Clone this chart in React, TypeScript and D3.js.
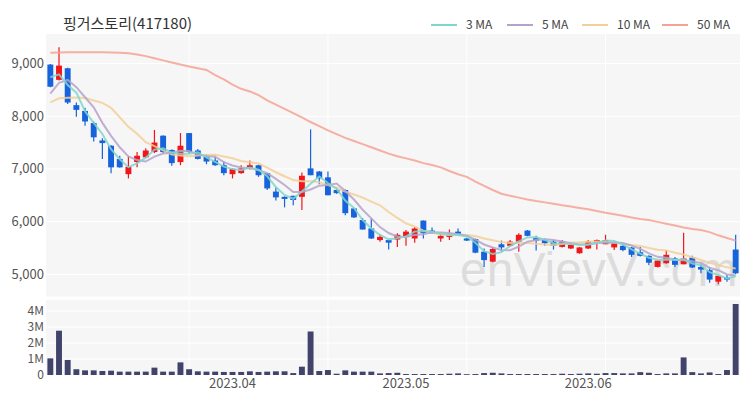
import React from "react";
import * as d3 from "d3";

// trading days shown on the category axis
const dates = [
  "2023-03-03", "2023-03-06", "2023-03-07", "2023-03-08", "2023-03-09", "2023-03-10",
  "2023-03-13", "2023-03-14", "2023-03-15", "2023-03-16", "2023-03-17",
  "2023-03-20", "2023-03-21", "2023-03-22", "2023-03-23", "2023-03-24",
  "2023-03-27", "2023-03-28", "2023-03-29", "2023-03-30", "2023-03-31",
  "2023-04-03", "2023-04-04", "2023-04-05", "2023-04-06", "2023-04-07",
  "2023-04-10", "2023-04-11", "2023-04-12", "2023-04-13", "2023-04-14",
  "2023-04-17", "2023-04-18", "2023-04-19", "2023-04-20", "2023-04-21",
  "2023-04-24", "2023-04-25", "2023-04-26", "2023-04-27", "2023-04-28",
  "2023-05-02", "2023-05-03", "2023-05-04", "2023-05-08", "2023-05-09",
  "2023-05-10", "2023-05-11", "2023-05-12", "2023-05-15", "2023-05-16",
  "2023-05-17", "2023-05-18", "2023-05-19", "2023-05-22", "2023-05-23",
  "2023-05-24", "2023-05-25", "2023-05-26", "2023-05-29", "2023-05-30",
  "2023-05-31", "2023-06-01", "2023-06-02", "2023-06-05", "2023-06-07",
  "2023-06-08", "2023-06-09", "2023-06-12", "2023-06-13", "2023-06-14",
  "2023-06-15", "2023-06-16", "2023-06-19", "2023-06-20", "2023-06-21",
  "2023-06-22", "2023-06-23", "2023-06-26", "2023-06-27",
];

const openPrice = [
  8980, 8690, 8910, 8210, 8100, 7870, 7540, 7440, 7190, 6900,
  7130, 7220, 7320, 7630, 7360, 7130, 7680, 7350, 7230, 7160,
  7070, 6900, 6920, 7000, 7070, 6920, 6570, 6470, 6490, 6470,
  7010, 6950, 6840, 6600, 6600, 6250, 6030, 5870, 5650, 5650,
  5660, 5710, 5680, 6020, 5830, 5680, 5710, 5810, 5680, 5670,
  5430, 5240, 5570, 5540, 5620, 5830, 5690, 5650, 5620, 5520,
  5490, 5400, 5490, 5610, 5570, 5510, 5540, 5510, 5420, 5350,
  5140, 5210, 5300, 5190, 5320, 5140, 5080, 4860, 4940, 5470,
];
const highPrice = [
  8990, 9310, 8920, 8260, 8160, 7900, 7580, 7450, 7250, 7240,
  7320, 7390, 7740, 7640, 7370, 7680, 7680, 7380, 7280, 7230,
  7140, 7010, 7070, 7160, 7080, 6920, 6650, 6480, 6490, 6930,
  7750, 6960, 6950, 6650, 6610, 6260, 6070, 6060, 5760, 5660,
  5780, 5840, 5900, 6020, 5890, 5780, 5850, 5870, 5690, 5680,
  5490, 5520, 5640, 5650, 5780, 5840, 5730, 5680, 5650, 5650,
  5600, 5520, 5650, 5660, 5750, 5620, 5570, 5520, 5520, 5360,
  5260, 5460, 5330, 5790, 5350, 5190, 5140, 4970, 4990, 5750,
];
const lowPrice = [
  8550, 8680, 8230, 7990, 7820, 7520, 7190, 6920, 7020, 6820,
  7030, 7200, 7300, 7300, 7060, 7070, 7300, 7180, 7090, 7060,
  6880, 6820, 6910, 6990, 6850, 6600, 6400, 6270, 6310, 6220,
  6880, 6710, 6500, 6530, 6120, 6070, 5850, 5670, 5620, 5470,
  5520, 5540, 5600, 5680, 5770, 5620, 5650, 5740, 5630, 5400,
  5140, 5230, 5430, 5530, 5430, 5720, 5450, 5540, 5470, 5510,
  5480, 5390, 5480, 5470, 5570, 5460, 5440, 5330, 5340, 5170,
  5130, 5200, 5140, 5190, 5120, 5020, 4840, 4810, 4860, 5000,
];
const closePrice = [
  8560, 8960, 8260, 8120, 7900, 7600, 7490, 7030, 7030, 7040,
  7250, 7350, 7500, 7320, 7110, 7440, 7320, 7190, 7140, 7070,
  6920, 7000, 7010, 7070, 6880, 6630, 6460, 6430, 6410, 6870,
  6880, 6820, 6500, 6540, 6160, 6080, 5850, 5680, 5710, 5600,
  5750, 5810, 5870, 5780, 5780, 5730, 5760, 5750, 5640, 5410,
  5270, 5480, 5510, 5620, 5750, 5730, 5640, 5590, 5540, 5620,
  5560, 5510, 5620, 5650, 5650, 5590, 5460, 5370, 5350, 5220,
  5260, 5370, 5180, 5300, 5130, 5090, 4900, 4970, 4900, 5020,
];
const volume = [
  1040000, 2770000, 940000, 360000, 290000, 290000, 250000, 270000, 210000, 210000,
  210000, 210000, 460000, 210000, 210000, 790000, 360000, 230000, 210000, 210000,
  190000, 190000, 190000, 230000, 190000, 210000, 230000, 230000, 120000, 520000,
  2720000, 250000, 310000, 80000, 290000, 210000, 210000, 210000, 100000, 120000,
  140000, 60000, 60000, 60000, 60000, 60000, 80000, 100000, 50000, 60000,
  120000, 140000, 100000, 60000, 60000, 60000, 60000, 60000, 60000, 80000,
  60000, 80000, 100000, 80000, 120000, 120000, 100000, 100000, 180000, 140000,
  60000, 100000, 100000, 1100000, 180000, 100000, 160000, 60000, 310000, 4440000,
];
// closes before the window, needed for the short averages at the left edge
const priorClose = [8200, 8150, 8050, 8000, 8080, 7950, 7980, 8800, 8860];
const ma50 = [
  9205, 9210, 9213, 9215, 9215, 9215, 9212, 9210, 9205, 9195,
  9170, 9140, 9100, 9060, 9020, 8980, 8945, 8910, 8877, 8780,
  8700, 8600, 8520, 8470, 8400, 8300, 8220, 8140, 8060, 7980,
  7890, 7810, 7730, 7660, 7590, 7530, 7470, 7410, 7350, 7290,
  7240, 7200, 7160, 7110, 7075, 7030, 6960, 6900, 6850, 6760,
  6680, 6600, 6530, 6490, 6455, 6420, 6390, 6365, 6340, 6310,
  6285, 6260, 6235, 6200, 6170, 6140, 6110, 6080, 6050, 6030,
  5995, 5960, 5925, 5890, 5860, 5840, 5800, 5740, 5690, 5640,
];

const maWindows = [3, 5, 10];
const legendLabels = ["3 MA", "5 MA", "10 MA", "50 MA"];
const tickDates = ["2023-04-03", "2023-05-02", "2023-06-01"];
const tickLabels = ["2023.04", "2023.05", "2023.06"];
const priceTicks = [5000, 6000, 7000, 8000, 9000];
const volumeTicks = [0, 1000000, 2000000, 3000000, 4000000];

const UP = "#f0161c";
const DOWN = "#1663dc";
const VOL = "#41436b";
const MA_COLORS = ["#7fd6cc", "#b5a2cc", "#f2cf98", "#f5a294"];
const FONT = "'Noto Sans CJK KR', 'Noto Sans', sans-serif";

const L = 46;
const R = 740;
const mainTop = 34;
const mainBottom = 296.5;
const volTop = 300;
const volBottom = 375;

function movingAverage(n: number) {
  const all = priorClose.concat(closePrice);
  const off = priorClose.length;
  return closePrice.map((_, i) => d3.mean(all.slice(off + i - n + 1, off + i + 1)) as number);
}

export default function App() {
  const x = d3.scaleBand<string>().domain(dates).range([L, R]).padding(0);
  const bw = x.bandwidth();
  const cx = (d: string) => (x(d) ?? 0) + bw / 2;
  const y = d3.scaleLinear().domain([4579, 9560]).range([mainBottom, mainTop]);
  const yv = d3.scaleLinear().domain([0, 4690000]).range([volBottom, volTop]);

  const maSeries = [...maWindows.map((n) => movingAverage(n)), ma50];
  const line = d3
    .line<number>()
    .x((_, i) => cx(dates[i]))
    .y((v) => y(v))
    .curve(d3.curveLinear);

  const gridIdx = d3.range(16, dates.length, 16);
  const body = bw * 0.68;
  const legendX = [431, 507, 582, 662];

  return (
    <svg
      width={750}
      height={400}
      style={{ position: "absolute", left: 0, top: 0, fontFamily: FONT }}
    >
      <rect x={0} y={0} width={750} height={400} fill="#fff" />
      <rect x={L} y={mainTop} width={R - L} height={mainBottom - mainTop} fill="#f6f6f6" />
      <rect x={L} y={volTop} width={R - L} height={volBottom - volTop} fill="#f6f6f6" />

      {/* grid */}
      {priceTicks.map((t) => (
        <line key={"gp" + t} x1={L} x2={R} y1={y(t)} y2={y(t)} stroke="#fff" strokeWidth={1} />
      ))}
      {volumeTicks.slice(1).map((t) => (
        <line key={"gv" + t} x1={L} x2={R} y1={yv(t)} y2={yv(t)} stroke="#fff" strokeWidth={1} />
      ))}
      {gridIdx.map((i) => (
        <g key={"gx" + i}>
          <line x1={cx(dates[i])} x2={cx(dates[i])} y1={mainTop} y2={mainBottom} stroke="#fff" />
          <line x1={cx(dates[i])} x2={cx(dates[i])} y1={volTop} y2={volBottom} stroke="#fff" />
        </g>
      ))}

      {/* watermark */}
      <text x={460} y={286} fontSize={48} fill="#d4d4d4" opacity={0.75}
        fontFamily="'Liberation Sans', Arial, sans-serif">
        enVievV.com
      </text>

      {/* volume */}
      {volume.map((v, i) => (
        <rect
          key={"v" + i}
          x={cx(dates[i]) - body / 2}
          y={yv(v)}
          width={body}
          height={yv(0) - yv(v)}
          fill={VOL}
        />
      ))}

      {/* candles */}
      {dates.map((d, i) => {
        const o = openPrice[i];
        const c = closePrice[i];
        const col = c >= o ? UP : DOWN;
        const top = y(Math.max(o, c));
        const h = Math.max(1, Math.abs(y(o) - y(c)));
        return (
          <g key={"c" + i}>
            <line x1={cx(d)} x2={cx(d)} y1={y(highPrice[i])} y2={y(lowPrice[i])} stroke={col} strokeWidth={1.2} />
            <rect x={cx(d) - body / 2} y={top} width={body} height={h} fill={col} />
          </g>
        );
      })}

      {/* moving averages */}
      {maSeries
        .map((s, k) => (
          <path key={"ma" + k} d={line(s) ?? ""} fill="none" stroke={MA_COLORS[k]} strokeWidth={2} opacity={0.85} />
        ))
        .reverse()}

      {/* axes labels */}
      {priceTicks.map((t) => (
        <text key={"yp" + t} x={44} y={y(t)} dy="0.35em" textAnchor="end" fontSize={13} fill="#555">
          {d3.format(",")(t)}
        </text>
      ))}
      {volumeTicks.map((t) => (
        <text key={"yv" + t} x={44} y={yv(t)} dy="0.35em" textAnchor="end" fontSize={12} fill="#555">
          {t === 0 ? "0" : t / 1000000 + "M"}
        </text>
      ))}
      {tickDates.map((d, k) => (
        <text key={"xt" + k} x={cx(d)} y={388} textAnchor="middle" fontSize={13} fill="#555">
          {tickLabels[k]}
        </text>
      ))}

      {/* title */}
      <text x={63} y={29} fontSize={15} fill="#333">
        핑거스토리(417180)
      </text>

      {/* legend */}
      {legendLabels.map((lab, k) => (
        <g key={"lg" + k}>
          <line x1={legendX[k]} x2={legendX[k] + 26} y1={25} y2={25} stroke={MA_COLORS[k]} strokeWidth={2} />
          <text x={legendX[k] + 35} y={25} dy="0.35em" fontSize={12} fill="#444">
            {lab}
          </text>
        </g>
      ))}
    </svg>
  );
}
